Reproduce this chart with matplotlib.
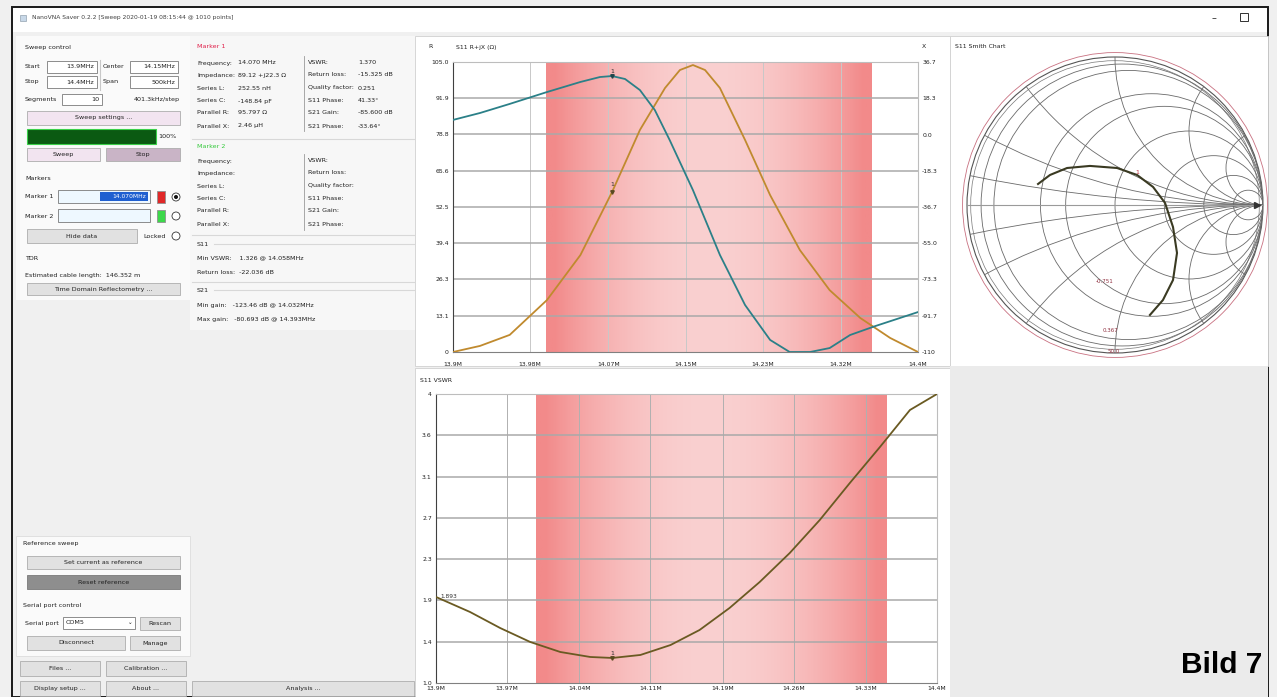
import numpy as np
import matplotlib
matplotlib.use("Agg")
import matplotlib.pyplot as plt
from matplotlib.patches import Rectangle, Circle

plt.rcParams['font.family'] = ['DejaVu Sans']

# ---- data ----
# S11 R+jX chart (top)
R_FREQ = [13.900, 13.929, 13.961, 14.001, 14.037, 14.071, 14.101, 14.128, 14.144, 14.158,
          14.171, 14.187, 14.214, 14.241, 14.273, 14.305, 14.338, 14.370, 14.400]
R_VALS = [0.0, 2.2, 6.2, 18.8, 35.1, 57.9, 80.4, 95.6, 102.1, 103.9,
          102.1, 95.6, 76.8, 56.8, 36.9, 22.4, 12.3, 5.1, 0.0]
X_FREQ = [13.900, 13.929, 13.961, 14.001, 14.037, 14.058, 14.071, 14.085, 14.101, 14.117,
          14.133, 14.158, 14.187, 14.214, 14.241, 14.262, 14.284, 14.305, 14.327, 14.354, 14.400]
X_VALS = [7.4, 10.9, 15.5, 21.5, 26.6, 29.1, 29.6, 28.1, 22.5, 12.4,
          -2.8, -28.1, -60.9, -86.2, -103.9, -110.0, -110.0, -108.0, -101.4, -96.9, -89.8]
R_TICKS = [0, 13.1, 26.3, 39.4, 52.5, 65.6, 78.8, 91.9, 105.0]
R_TICK_LABELS = ["0", "13.1", "26.3", "39.4", "52.5", "65.6", "78.8", "91.9", "105.0"]
X_TICKS = [-110, -91.7, -73.3, -55.0, -36.7, -18.3, 0.0, 18.3, 36.7]
X_TICK_LABELS = ["-110", "-91.7", "-73.3", "-55.0", "-36.7", "-18.3", "0.0", "18.3", "36.7"]
TOP_FTICKS = [13.9, 13.983, 14.067, 14.15, 14.233, 14.317, 14.4]
TOP_FLABELS = ["13.9M", "13.98M", "14.07M", "14.15M", "14.23M", "14.32M", "14.4M"]

# S11 VSWR chart (bottom)
VSWR_FREQ = [13.900, 13.934, 13.964, 13.994, 14.024, 14.054, 14.076, 14.104, 14.134,
             14.163, 14.193, 14.223, 14.253, 14.283, 14.313, 14.343, 14.373, 14.400]
VSWR_VALS = [1.893, 1.737, 1.571, 1.426, 1.322, 1.270, 1.260, 1.291, 1.394,
             1.550, 1.779, 2.048, 2.349, 2.692, 3.076, 3.449, 3.834, 4.0]
VSWR_TICKS = [1.0, 1.43, 1.86, 2.29, 2.71, 3.14, 3.57, 4.0]
VSWR_TICK_LABELS = ["1.0", "1.4", "1.9", "2.3", "2.7", "3.1", "3.6", "4"]
BOT_FTICKS = [13.9, 13.971, 14.043, 14.114, 14.186, 14.257, 14.329, 14.4]
BOT_FLABELS = ["13.9M", "13.97M", "14.04M", "14.11M", "14.19M", "14.26M", "14.33M", "14.4M"]

BAND = (14.0, 14.35)          # shaded amateur band
MARKER1_FREQ = 14.071
MARKER1_VSWR_FREQ = 14.076

# Smith chart trace (reflection coefficient)
GAMMA_RE = [-0.520, -0.439, -0.324, -0.169, 0.014, 0.149, 0.257, 0.338, 0.392, 0.419, 0.392, 0.324, 0.236]
GAMMA_IM = [0.142, 0.203, 0.250, 0.264, 0.250, 0.203, 0.122, 0.014, -0.149, -0.324, -0.507, -0.642, -0.743]
SMITH_R = [0.05, 0.1, 0.33, 0.5, 1, 2, 4, 9]
SMITH_X = [0.1, 0.25, 0.5, 1, 2, 4]

# Marker panel texts
M_LEFT = ["Frequency:", "Impedance:", "Series L:", "Series C:", "Parallel R:", "Parallel X:"]
M1_LEFT_VALS = ["14.070 MHz", "89.12 +j22.3 \u03a9", "252.55 nH", "-148.84 pF", "95.797 \u03a9", "2.46 \u00b5H"]
M_RIGHT = ["VSWR:", "Return loss:", "Quality factor:", "S11 Phase:", "S21 Gain:", "S21 Phase:"]
M1_RIGHT_VALS = ["1.370", "-15.325 dB", "0.251", "41.33\u00b0", "-85.600 dB", "-33.64\u00b0"]

W, H = 1277, 697
fig = plt.figure(figsize=(W / 100, H / 100), dpi=100)
fig.patch.set_facecolor('#f0f0f0')
bg = fig.add_axes([0, 0, 1, 1])
bg.set_xlim(0, W)
bg.set_ylim(H, 0)
bg.axis('off')

FS = 4.6
TXT = '#202020'


def rect(x0, y0, x1, y1, fc, ec='none', lw=0.6, z=1):
    bg.add_patch(Rectangle((x0, y0), x1 - x0, y1 - y0, facecolor=fc, edgecolor=ec, lw=lw, zorder=z))


def txt(x, y, s, size=FS, color=TXT, ha='left', **kw):
    bg.text(x, y, s, fontsize=size, color=color, ha=ha, va='center', zorder=5, **kw)


def button(x0, y0, x1, y1, label, fc='#e1e1e1', ec='#adadad'):
    rect(x0, y0, x1, y1, fc, ec, z=2)
    txt((x0 + x1) / 2, (y0 + y1) / 2, label, ha='center')


def lineedit(x0, y0, x1, y1, value, fc='white'):
    rect(x0, y0, x1, y1, fc, '#7a7a7a', z=2)
    if value:
        txt(x1 - 3, (y0 + y1) / 2, value, ha='right')


def hline(x0, x1, y, color='#d8d8d8', lw=0.8):
    bg.plot([x0, x1], [y, y], color=color, lw=lw, zorder=3)


def vline(x, y0, y1, color='#d8d8d8', lw=0.8):
    bg.plot([x, x], [y0, y1], color=color, lw=lw, zorder=3)


def chart_axes(x0, y0, x1, y1):
    return fig.add_axes([x0 / W, 1 - y1 / H, (x1 - x0) / W, (y1 - y0) / H])


# ---- window frame ----
rect(12, 7, 1268, 697, '#f0f0f0', '#1a1a1a', lw=1.4, z=0)
rect(13, 8, 1267, 32, 'white', z=1)
txt(32, 18, "NanoVNA Saver 0.2.2 [Sweep 2020-01-19 08:15:44 @ 1010 points]", size=4.3, color='#404040')
rect(20, 15, 26, 21, '#c8d8e8', '#8090a0', lw=0.4, z=2)
txt(1214, 18, "\u2013", size=7, color='#303030', ha='center')
rect(1240, 13, 1248, 21, 'none', '#303030', lw=0.7, z=2)

# panels
rect(16, 36, 190, 300, '#fafafa', z=1)
rect(190, 36, 416, 330, '#f7f7f7', z=1)
rect(16, 536, 190, 656, '#fafafa', '#dcdcdc', z=1)
rect(415, 36, 950, 366, 'white', '#d0d0d0', z=1)
rect(415, 368, 950, 697, 'white', '#d0d0d0', z=1)
rect(950, 36, 1268, 366, 'white', '#d0d0d0', z=1)
rect(950, 366, 1268, 697, '#ebebeb', z=1)

# ---- sweep control ----
txt(25, 47, "Sweep control")
txt(25, 67, "Start")
lineedit(47, 61, 97, 73, "13.9MHz")
txt(103, 67, "Center")
lineedit(130, 61, 178, 73, "14.15MHz")
txt(25, 82, "Stop")
lineedit(47, 76, 97, 88, "14.4MHz")
txt(103, 82, "Span")
lineedit(130, 76, 178, 88, "500kHz")
vline(100, 60, 90, color='#c8c8c8')
txt(25, 99, "Segments")
lineedit(62, 94, 102, 105, "10")
txt(180, 99, "401.3kHz/step", ha='right')
button(27, 111, 180, 125, "Sweep settings ...", fc='#f2e4f0')
rect(27, 129, 156, 144, '#0b5a12', '#3bd04a', lw=0.8, z=2)
txt(158, 137, "100%")
button(27, 148, 100, 161, "Sweep", fc='#f2e4f0')
button(106, 148, 180, 161, "Stop", fc='#c9b4c6')

# ---- markers ----
txt(25, 178, "Markers")
txt(25, 197, "Marker 1")
lineedit(58, 190, 150, 203, "", fc='#eef8ff')
rect(100, 192, 148, 201, '#1f5fd0', z=3)
txt(146, 196.5, "14.070MHz", color='white', ha='right', size=4.3)
rect(157, 191, 165, 203, '#e02828', '#909090', z=2)
bg.add_patch(Circle((176, 197), 4, facecolor='white', edgecolor='#333', lw=0.6, zorder=3))
bg.add_patch(Circle((176, 197), 2, facecolor='#111', zorder=4))
txt(25, 216, "Marker 2")
lineedit(58, 209, 150, 222, "", fc='#eef8ff')
rect(157, 210, 165, 222, '#3cd84a', '#909090', z=2)
bg.add_patch(Circle((176, 216), 4, facecolor='white', edgecolor='#333', lw=0.6, zorder=3))
button(27, 229, 137, 243, "Hide data")
txt(143, 236, "Locked")
bg.add_patch(Circle((176, 236), 4, facecolor='white', edgecolor='#333', lw=0.6, zorder=3))
txt(25, 258, "TDR")
txt(25, 275, "Estimated cable length:  146.352 m")
button(27, 283, 180, 295, "Time Domain Reflectometry ...")

# ---- reference / serial ----
txt(23, 544, "Reference sweep")
button(27, 556, 180, 569, "Set current as reference")
button(27, 575, 180, 589, "Reset reference", fc='#8e8e8e', ec='#7a7a7a')
txt(23, 605, "Serial port control")
txt(25, 623, "Serial port")
lineedit(63, 617, 135, 629, "")
txt(66, 623, "COM5")
txt(130, 623, "\u2304", ha='center', size=4)
button(140, 617, 180, 630, "Rescan")
button(27, 636, 125, 650, "Disconnect")
button(130, 636, 180, 650, "Manage")
button(20, 661, 100, 676, "Files ...")
button(106, 661, 186, 676, "Calibration ...")
button(20, 681, 100, 696, "Display setup ...")
button(106, 681, 186, 696, "About ...")
button(192, 681, 414, 696, "Analysis ...")

# ---- marker detail panel ----
txt(197, 46, "Marker 1", color='#e0204a')
rows1 = [63, 75, 88, 101, 113, 126]
for y, a, b, c, d in zip(rows1, M_LEFT, M1_LEFT_VALS, M_RIGHT, M1_RIGHT_VALS):
    txt(197, y, a)
    txt(238, y, b)
    txt(308, y, c)
    txt(358, y, d)
vline(304, 56, 131, color='#9a9a9a', lw=0.6)
hline(192, 414, 139)
txt(197, 146, "Marker 2", color='#35c93c')
rows2 = [161, 173, 186, 199, 211, 224]
for y, a, c in zip(rows2, M_LEFT, M_RIGHT):
    txt(197, y, a)
    txt(308, y, c)
vline(304, 154, 230, color='#9a9a9a', lw=0.6)
hline(192, 414, 235)
txt(197, 244, "S11")
hline(214, 414, 244)
txt(197, 258, "Min VSWR:    1.326 @ 14.058MHz")
txt(197, 272, "Return loss:  -22.036 dB")
hline(192, 414, 282)
txt(197, 290, "S21")
hline(214, 414, 290)
txt(197, 305, "Min gain:   -123.46 dB @ 14.032MHz")
txt(197, 319, "Max gain:   -80.693 dB @ 14.393MHz")

# band gradient (deep red at the edges, pale in the middle)
t = np.linspace(0, 1, 120)
edge = np.array([242, 138, 138]) / 255
mid = np.array([250, 208, 208]) / 255
w = np.clip(np.abs(2 * t - 1) ** 2.0 * 1.1, 0, 1)[:, None]
grad = (mid * (1 - w) + edge * w)[None, :, :]

R_COL = '#c08a2e'
X_COL = '#2b8088'
GRID = '#a9a9a9'


def style_axes(ax):
    ax.set_facecolor('white')
    ax.tick_params(length=0, labelsize=4.4, colors='#202020', pad=3)
    for s in ax.spines.values():
        s.set_color('#bdbdbd')
        s.set_linewidth(0.8)
    ax.spines['left'].set_color('#404040')
    ax.spines['bottom'].set_color('#808080')


# ---- top chart: S11 R+jX ----
ax = chart_axes(453, 62, 918, 352)
style_axes(ax)
ax.tick_params(axis='x', pad=7)
ax.imshow(grad, extent=[BAND[0], BAND[1], 0, 105], aspect='auto', zorder=0)
ax.set_xlim(13.9, 14.4)
ax.set_ylim(0, 105)
ax.set_xticks(TOP_FTICKS, TOP_FLABELS)
ax.set_yticks(R_TICKS, R_TICK_LABELS)
for f in TOP_FTICKS[1:-1]:
    ax.axvline(f, color='#c8c8c8', lw=0.7, zorder=1)
for r in R_TICKS[1:-1]:
    ax.axhline(r, color=GRID, lw=1.1, zorder=1)
ax.plot(R_FREQ, R_VALS, color=R_COL, lw=1.3, zorder=3)
i = R_FREQ.index(MARKER1_FREQ)
ax.plot([R_FREQ[i]], [R_VALS[i]], marker='v', ms=2.5, color='#5a4a20', zorder=4)
ax.text(R_FREQ[i], R_VALS[i] + 2, "1", fontsize=4.5, ha='center', va='bottom', color='#303030', zorder=4)

ax2 = ax.twinx()
ax2.set_ylim(-110, 36.7)
ax2.set_yticks(X_TICKS, X_TICK_LABELS)
ax2.tick_params(length=0, labelsize=4.4, colors='#202020', pad=3)
for s in ax2.spines.values():
    s.set_visible(False)
ax2.plot(X_FREQ, X_VALS, color=X_COL, lw=1.3, zorder=3)
j = X_FREQ.index(MARKER1_FREQ)
ax2.plot([X_FREQ[j]], [X_VALS[j]], marker='v', ms=2.5, color='#20454a', zorder=4)
ax2.text(X_FREQ[j], X_VALS[j] + 1, "1", fontsize=4.5, ha='center', va='bottom', color='#303030', zorder=4)

txt(456, 47, "S11 R+jX (\u03a9)", size=4.4)
txt(428, 47, "R", size=4.4)
txt(922, 47, "X", size=4.4)

# ---- bottom chart: S11 VSWR ----
ax3 = chart_axes(436, 394, 937, 683)
style_axes(ax3)
ax3.tick_params(axis='x', pad=2)
ax3.imshow(grad, extent=[BAND[0], BAND[1], 1.0, 4.0], aspect='auto', zorder=0)
ax3.set_xlim(13.9, 14.4)
ax3.set_ylim(1.0, 4.0)
ax3.set_xticks(BOT_FTICKS, BOT_FLABELS)
ax3.set_yticks(VSWR_TICKS, VSWR_TICK_LABELS)
for f in BOT_FTICKS[1:-1]:
    ax3.axvline(f, color='#b0b0b0', lw=0.7, zorder=1)
for v in VSWR_TICKS[1:-1]:
    ax3.axhline(v, color=GRID, lw=1.1, zorder=1)
ax3.plot(VSWR_FREQ, VSWR_VALS, color='#6a5a22', lw=1.3, zorder=3)
k = VSWR_FREQ.index(MARKER1_VSWR_FREQ)
ax3.plot([VSWR_FREQ[k]], [VSWR_VALS[k]], marker='v', ms=2.5, color='#5a4a20', zorder=4)
ax3.text(VSWR_FREQ[k], VSWR_VALS[k] + 0.02, "1", fontsize=4.5, ha='center', va='bottom', color='#303030', zorder=4)
ax3.text(VSWR_FREQ[0] + 0.004, VSWR_VALS[0], "1.893", fontsize=4.2, ha='left', va='center', color='#303030', zorder=4)
txt(420, 380, "S11 VSWR", size=4.4)

# ---- Smith chart ----
sx = chart_axes(960, 50, 1270, 360)
sx.set_xlim(-155 / 148, 155 / 148)
sx.set_ylim(-155 / 148, 155 / 148)
sx.set_aspect('equal')
sx.axis('off')
unit = Circle((0, 0), 1.0, facecolor='none', edgecolor='#555555', lw=0.8)
sx.add_patch(unit)
sx.add_patch(Circle((0, 0), 1.03, facecolor='none', edgecolor='#c87080', lw=0.6))
sx.add_patch(Circle((0, 0), 0.975, facecolor='none', edgecolor='#777777', lw=0.5))
for r in SMITH_R:
    c = Circle((r / (1 + r), 0), 1 / (1 + r), facecolor='none', edgecolor='#6a6a6a', lw=0.6)
    sx.add_patch(c)
    c.set_clip_path(unit)
for xv in SMITH_X:
    for sgn in (1, -1):
        c = Circle((1, sgn / xv), 1 / xv, facecolor='none', edgecolor='#6a6a6a', lw=0.6)
        sx.add_patch(c)
        c.set_clip_path(unit)
sx.plot([-1, 1], [0, 0], color='#9a9a9a', lw=0.8)
sx.plot(GAMMA_RE, GAMMA_IM, color='#3a3a22', lw=1.5, zorder=4)
sx.text(0.15, 0.21, "1", fontsize=4.5, color='#c03040', ha='center')
sx.text(-0.07, -0.53, "-0.751", fontsize=4.0, color='#903040', ha='center')
sx.text(-0.03, -0.86, "0.367", fontsize=4.0, color='#903040', ha='center')
sx.text(-0.01, -1.0, "50.0", fontsize=4.0, color='#903040', ha='center')
sx.plot([0.96], [0], marker='>', ms=4, color='#333333')
txt(955, 47, "S11 Smith Chart", size=4.4)

# label
bg.text(1262, 665, "Bild 7", fontsize=21.5, fontweight='bold', family='Liberation Sans',
        ha='right', va='center', color='black', zorder=6)

fig.savefig("out.png", dpi=100, facecolor=fig.get_facecolor())
